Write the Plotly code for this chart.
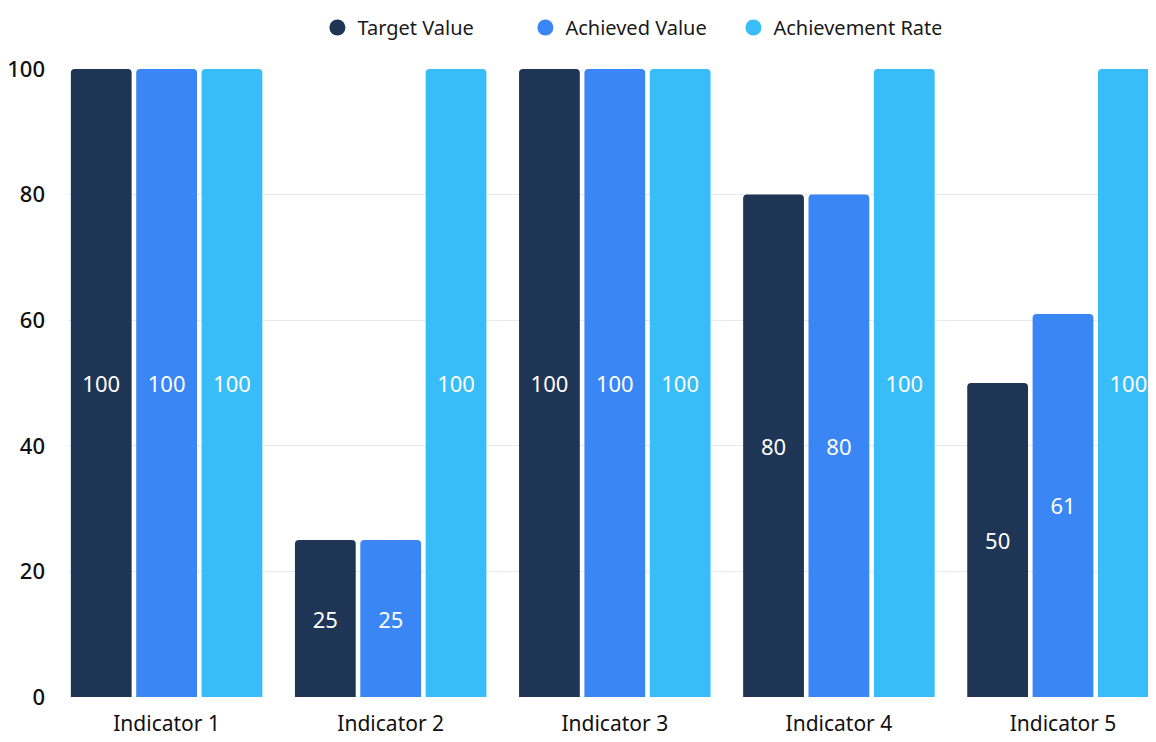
import plotly.graph_objects as go

categories = ["Indicator 1", "Indicator 2", "Indicator 3", "Indicator 4", "Indicator 5"]
target_value = [100, 25, 100, 80, 50]
achieved_value = [100, 25, 100, 80, 61]
achievement_rate = [100, 100, 100, 100, 100]

series = [
    ("Target Value", target_value, "#1f3556"),
    ("Achieved Value", achieved_value, "#3b86f5"),
    ("Achievement Rate", achievement_rate, "#38bdf8"),
]

fig = go.Figure()
for name, vals, color in series:
    fig.add_trace(go.Bar(
        x=categories, y=vals, name=name, showlegend=False,
        marker=dict(color=color, line=dict(width=0), cornerradius=4),
        text=[str(v) for v in vals], textposition="inside",
        insidetextanchor="middle", textangle=0,
        textfont=dict(color="white", size=22, family="Noto Sans"),
        hoverinfo="skip",
    ))
for name, vals, color in series:
    fig.add_trace(go.Scatter(
        x=[None], y=[None], mode="markers", name=name,
        marker=dict(color=color, size=22, symbol="circle"),
    ))

fig.update_layout(
    width=1148, height=734,
    margin=dict(l=60, r=0, t=61, b=45),
    plot_bgcolor="white", paper_bgcolor="white",
    barmode="group", bargap=0.125, bargroupgap=0.07,
    font=dict(family="Noto Sans", color="#111111"),
    legend=dict(orientation="h", x=0.516, xanchor="center", y=1.0, yanchor="top",
                yref="container", font=dict(size=20, color="#1a1a1a"),
                itemsizing="trace", entrywidthmode="pixels", entrywidth=163,
                traceorder="normal"),
    uniformtext=dict(minsize=22, mode="show"),
)
fig.update_xaxes(range=[-0.44, 4.415], showgrid=False, showline=False, ticks="",
                 ticklabelstandoff=12,
                 tickfont=dict(size=21, color="#111111"))
fig.update_yaxes(range=[0, 100], dtick=20, showgrid=True, gridcolor="#e8e8e8", gridwidth=1,
                 zeroline=False, showline=False, ticks="", ticklabelstandoff=22,
                 tickfont=dict(size=22, color="#111111", weight=500))

fig.write_html("out.html")
